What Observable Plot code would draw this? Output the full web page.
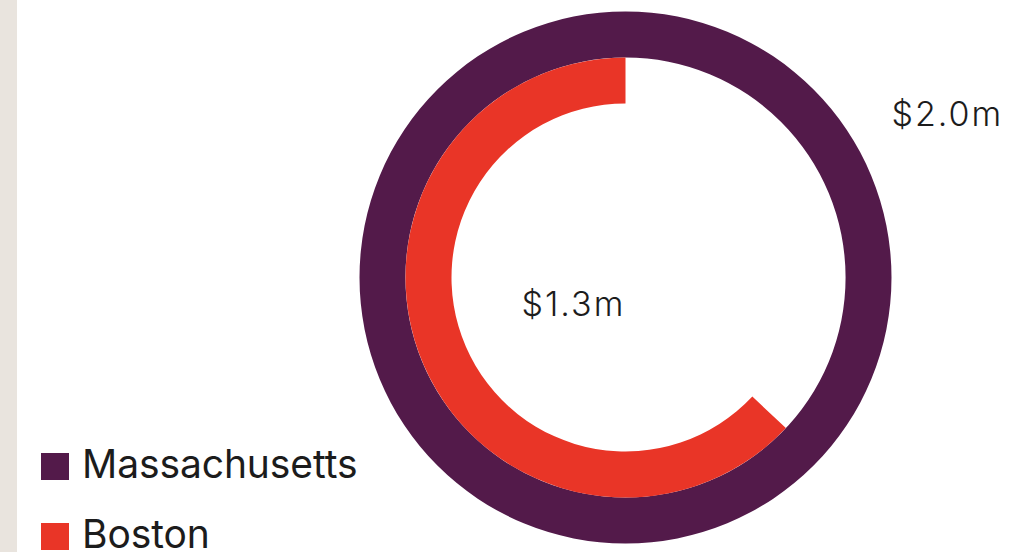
<!DOCTYPE html>
<html>
<head>
<meta charset="utf-8">
<script src="https://cdn.jsdelivr.net/npm/d3@7"></script>
<script src="https://cdn.jsdelivr.net/npm/@observablehq/plot@0.6"></script>
<style>
  html, body { margin: 0; padding: 0; background: #ffffff; }
  #wrap { position: relative; width: 1030px; height: 552px; overflow: hidden; background: #ffffff; }
  #strip { position: absolute; left: 0; top: 0; width: 17px; height: 552px; background: #e9e4de; }
  #chart { position: absolute; left: 0; top: 0; }
  #chart svg text { letter-spacing: 2px; }
  #legend { position: absolute; left: 41px; top: 0; font-family: Inter, "Noto Sans", sans-serif; }
  .row { position: absolute; left: 0; white-space: nowrap; height: 40px; }
  .sw { position: absolute; left: 0; width: 28px; height: 27px; }
  .lt { position: absolute; left: 41px; top: 0; font-size: 39px; line-height: 40px; color: #1c1c1c; letter-spacing: -0.1px; }
</style>
</head>
<body>
<div id="wrap">
  <div id="strip"></div>
  <div id="chart"></div>
  <div id="legend"></div>
</div>
<script>
// ---- data ----
const regions = ["Massachusetts", "Boston"];
const values = [2.0, 1.26];          // $ millions
const labels = ["$2.0m", "$1.3m"];
const colors = ["#531a4a", "#e93527"];
const maxValue = 2.0;

const data = regions.map((region, i) => ({region, value: values[i], label: labels[i]}));

// ---- layout ----
const W = 1030, H = 552;
const cx = 625.5, cy = 277.5;

// polar render: barX rectangles -> annular sectors (x = angle, y band = radius)
function polar(index, scales, values, dimensions, context) {
  const X1 = values.x1, X2 = values.x2, Y = values.y, F = values.fill;
  let bw = scales.y && scales.y.bandwidth;
  if (typeof bw === "function") bw = bw();
  const arc = d3.arc();
  const g = d3.create("svg:g").attr("transform", `translate(${cx},${cy})`);
  for (const i of index) {
    const a = Math.min(X1[i], X2[i]), b = Math.max(X1[i], X2[i]);
    g.append("path")
      .attr("d", arc({innerRadius: Y[i], outerRadius: Y[i] + bw, startAngle: a, endAngle: b}))
      .attr("fill", F[i]);
  }
  return g.node();
}

const textStyle = {fontFamily: "Inter, 'Noto Sans', sans-serif", fontSize: 34, fontWeight: 300, fill: "#1c1c1c", textAnchor: "start", lineAnchor: "middle", frameAnchor: "top-left"};

const chart = Plot.plot({
  width: W,
  height: H,
  margin: 0,
  style: {background: "transparent", overflow: "visible"},
  x: {domain: [0, maxValue], range: [0, -2 * Math.PI], axis: null},
  y: {type: "band", domain: regions, range: [265.5, 173.5], padding: 0, axis: null},
  color: {domain: regions, range: colors},
  marks: [
    Plot.barX(data, {x: "value", y: "region", fill: "region", render: polar}),
    Plot.text(data.filter(d => d.region === "Massachusetts"), {text: "label", dx: 891, dy: 115, ...textStyle}),
    Plot.text(data.filter(d => d.region === "Boston"), {text: "label", dx: 521, dy: 305, ...textStyle})
  ]
});
document.getElementById("chart").appendChild(chart);

// ---- legend (from the chart's colour scale) ----
const cs = chart.scale("color");
const legend = d3.select("#legend");
cs.domain.forEach((name, i) => {
  const row = legend.append("div").attr("class", "row").style("top", (443.5 + i * 70) + "px");
  row.append("div").attr("class", "sw").style("top", "9.5px").style("background", cs.range[i]);
  row.append("div").attr("class", "lt").text(name);
});
</script>
</body>
</html>
